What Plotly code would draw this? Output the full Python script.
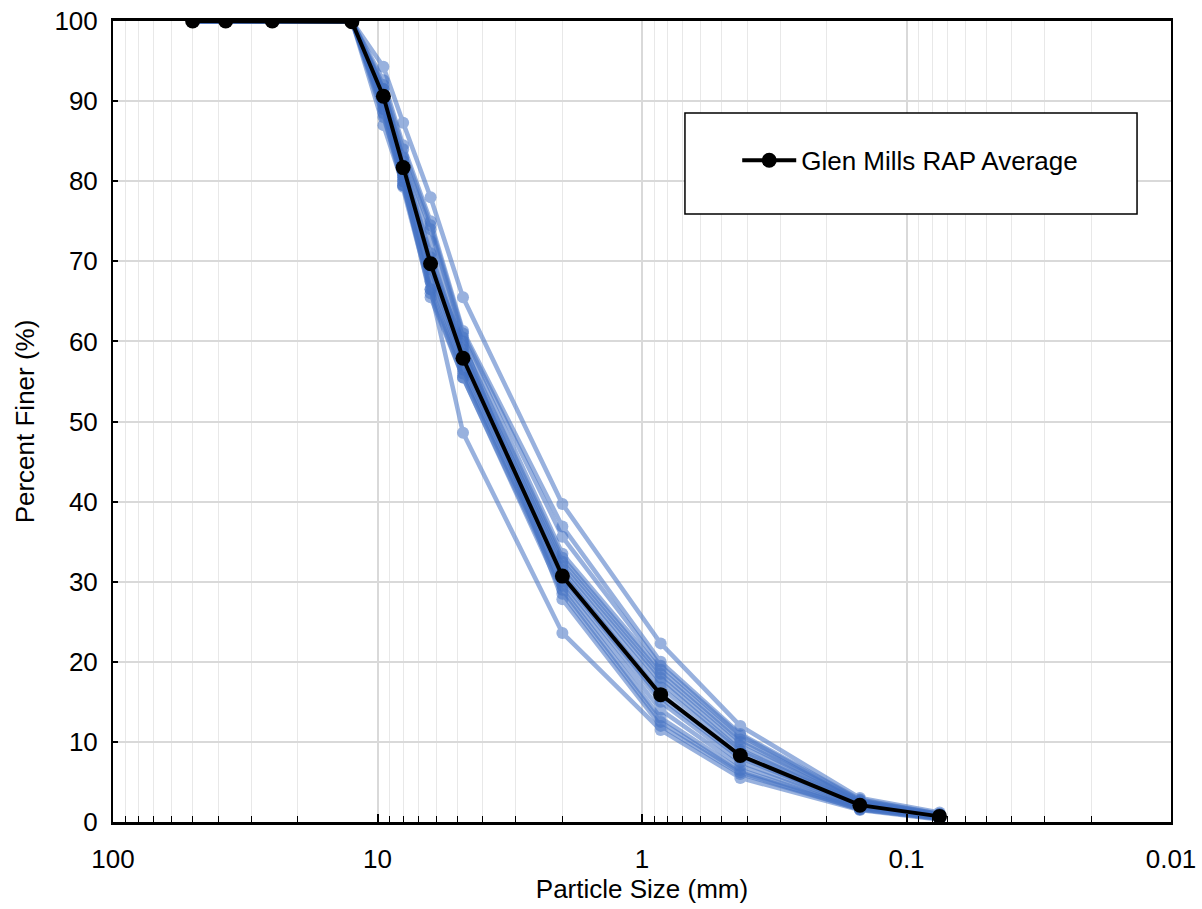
import plotly.graph_objects as go

# Sieve sizes (mm)
sieve_mm = [50, 37.5, 25, 12.5, 9.5, 8.0, 6.3, 4.75, 2.0, 0.85, 0.425, 0.15, 0.075]

# Average gradation
avg_name = "Glen Mills RAP Average"
avg_pass = [100, 100, 100, 99.9, 90.6, 81.7, 69.7, 57.9, 30.7, 15.9, 8.3, 2.1, 0.7]

# Individual samples (percent finer)
s01 = [100, 100, 100, 100, 94.3, 87.3, 78.0, 65.5, 39.7, 22.3, 12.0, 3.0, 1.2]
s02 = [100, 100, 100, 100, 92.6, 84.5, 75.0, 61.3, 36.9, 20.0, 11.0, 2.8, 1.0]
s03 = [100, 100, 100, 100, 92.0, 84.0, 74.5, 61.0, 35.6, 19.5, 10.8, 2.7, 1.0]
s04 = [100, 100, 100, 100, 91.5, 83.0, 74.0, 60.5, 33.5, 19.0, 10.3, 2.6, 0.9]
s05 = [100, 100, 100, 100, 91.0, 82.5, 72.5, 59.5, 33.0, 18.5, 10.0, 2.5, 0.9]
s06 = [100, 100, 100, 100, 90.5, 82.0, 71.0, 59.0, 32.5, 18.0, 9.5, 2.4, 0.8]
s07 = [100, 100, 100, 100, 90.0, 81.5, 70.5, 58.5, 32.0, 17.5, 9.0, 2.3, 0.8]
s08 = [100, 100, 100, 100, 90.5, 81.0, 70.0, 58.0, 31.5, 16.8, 8.8, 2.2, 0.7]
s09 = [100, 100, 100, 100, 90.0, 80.5, 69.0, 57.5, 31.0, 16.0, 8.2, 2.1, 0.7]
s10 = [100, 100, 100, 100, 89.5, 80.0, 68.0, 57.0, 30.5, 15.5, 8.0, 2.0, 0.6]
s11 = [100, 100, 100, 100, 89.0, 80.5, 67.5, 56.5, 30.0, 15.0, 7.5, 1.9, 0.6]
s12 = [100, 100, 100, 100, 89.0, 79.5, 66.5, 56.0, 29.5, 14.0, 7.0, 1.8, 0.5]
s13 = [100, 100, 100, 100, 88.5, 79.3, 66.0, 55.5, 29.0, 13.0, 6.5, 1.7, 0.5]
s14 = [100, 100, 100, 100, 88.0, 80.0, 65.5, 55.5, 28.5, 12.5, 6.2, 1.6, 0.4]
s15 = [100, 100, 100, 100, 87.0, 79.5, 66.5, 48.6, 23.6, 11.5, 5.5, 1.5, 0.3]
s16 = [100, 100, 100, 100, 91.5, 82.0, 69.5, 60.0, 27.8, 12.0, 6.0, 1.6, 0.4]
samples = [s01, s02, s03, s04, s05, s06, s07, s08, s09, s10, s11, s12, s13, s14, s15, s16]

x_tickvals = [100, 10, 1, 0.1, 0.01]
x_ticktext = ["100", "10", "1", "0.1", "0.01"]
y_tickvals = [0, 10, 20, 30, 40, 50, 60, 70, 80, 90, 100]

FONT = "Liberation Sans, Arial, sans-serif"
FS = 26

fig = go.Figure()
for s in samples:
    fig.add_trace(go.Scatter(
        x=sieve_mm, y=s, mode="lines+markers",
        line=dict(color="#4472C4", width=4.5),
        marker=dict(color="#4472C4", size=12),
        opacity=0.55, showlegend=False, hoverinfo="skip"))

fig.add_trace(go.Scatter(
    x=sieve_mm, y=avg_pass, mode="lines+markers", name=avg_name,
    line=dict(color="black", width=4),
    marker=dict(color="black", size=15)))

fig.update_layout(
    width=1202, height=909,
    margin=dict(l=113, r=31, t=21, b=87),
    paper_bgcolor="white", plot_bgcolor="white",
    font=dict(family=FONT, size=FS, color="black"),
    showlegend=True,
    legend=dict(x=0.590, y=0.826, xanchor="left", yanchor="middle",
                bgcolor="rgba(0,0,0,0)", borderwidth=0, itemwidth=54,
                font=dict(size=FS, family=FONT)),
    shapes=[dict(type="rect", xref="paper", yref="paper",
                 x0=0.5406, x1=0.9679, y0=0.759, y1=0.885,
                 line=dict(color="black", width=1.5), fillcolor="white",
                 layer="above")],
)

fig.update_xaxes(
    type="log", range=[2, -2], automargin=False,
    tickvals=x_tickvals, ticktext=x_ticktext,
    ticks="inside", ticklen=8, tickwidth=1.5, tickcolor="black",
    showline=True, linecolor="black", linewidth=2.5, mirror=True,
    showgrid=True, gridcolor="#d9d9d9", gridwidth=1.5,
    minor=dict(dtick="D1", ticks="inside", ticklen=6, tickwidth=1,
               tickcolor="black", showgrid=True, gridcolor="#e8e8e8",
               gridwidth=1),
    tickfont=dict(size=FS), ticklabelstandoff=12, ticklabeloverflow="allow",
    title=dict(text="Particle Size (mm)", font=dict(size=FS), standoff=6),
    zeroline=False,
)
fig.update_yaxes(
    range=[0, 100], tickvals=y_tickvals, automargin=False,
    ticks="inside", ticklen=5, tickwidth=1.5, tickcolor="black",
    showline=True, linecolor="black", linewidth=2, mirror=True,
    showgrid=True, gridcolor="#d9d9d9", gridwidth=1.5,
    tickfont=dict(size=FS), ticklabelstandoff=8, ticklabeloverflow="allow",
    title=dict(text="Percent Finer (%)", font=dict(size=FS), standoff=12),
    zeroline=False,
)

fig.write_html("out.html",
               config={"displayModeBar": False},
               post_script="document.body.style.margin='0';document.body.style.padding='0';")
